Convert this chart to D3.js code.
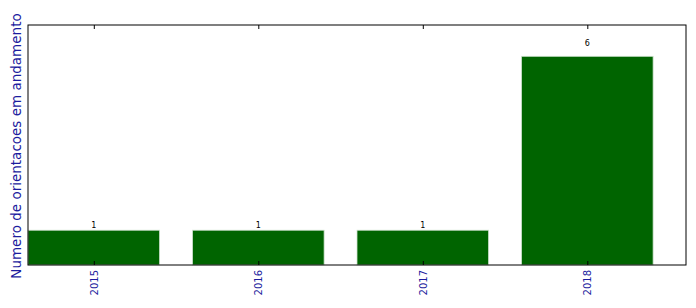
<!DOCTYPE html>
<html><head><meta charset="utf-8">
<script src="https://cdn.jsdelivr.net/npm/d3@7"></script>
<style>html,body{margin:0;padding:0;background:#fff;}svg{display:block;}</style>
</head><body>
<script>
const years = ["2015", "2016", "2017", "2018"];
const counts = [1, 1, 1, 6];
const yLabel = "Numero de orientacoes em andamento";

const W = 696, H = 308;
const m = {left: 28, right: 10, top: 25, bottom: 43};
const svg = d3.select("body").append("svg").attr("width", W).attr("height", H);

const x = d3.scaleLinear().domain([0, 4]).range([m.left, W - m.right]);
const y = d3.scaleLinear().domain([0, 6.9]).range([H - m.bottom, m.top]);
const barW = 0.8;
const blue = "#1c1c9e";

svg.append("g").selectAll("rect").data(counts).join("rect")
  .attr("x", (d, i) => x(i))
  .attr("width", x(barW) - x(0))
  .attr("y", d => y(d))
  .attr("height", d => y(0) - y(d))
  .attr("fill", "#006400")
  .attr("stroke", "#cfe3cf").attr("stroke-width", 0.8);

svg.append("g").selectAll("text").data(counts).join("text")
  .attr("x", (d, i) => x(i + barW / 2))
  .attr("y", d => y(d * 1.05))
  .attr("text-anchor", "middle")
  .attr("font-family", "DejaVu Sans").attr("font-size", 8).attr("fill", "#000")
  .text(d => d);

// frame
svg.append("rect").attr("x", m.left).attr("y", m.top)
  .attr("width", W - m.right - m.left).attr("height", H - m.bottom - m.top)
  .attr("fill", "none").attr("stroke", "#000").attr("stroke-width", 1);

const tickPos = years.map((d, i) => i + barW / 2);
const xb = d3.axisBottom(x).tickValues(tickPos).tickSize(-4).tickFormat("");
const gb = svg.append("g").attr("transform", `translate(0,${H - m.bottom})`).call(xb);
gb.select(".domain").remove();
const xt = d3.axisTop(x).tickValues(tickPos).tickSize(-4).tickFormat("");
const gt = svg.append("g").attr("transform", `translate(0,${m.top})`).call(xt);
gt.select(".domain").remove();

svg.append("g").selectAll("text").data(years).join("text")
  .attr("transform", (d, i) => `translate(${x(i + barW / 2) + 4},${H - m.bottom + 5}) rotate(-90)`)
  .attr("text-anchor", "end")
  .attr("font-family", "DejaVu Sans").attr("font-size", 10).attr("fill", blue)
  .text(d => d);

svg.append("text")
  .attr("transform", `translate(21,${(m.top + H - m.bottom) / 2 + 1}) rotate(-90)`)
  .attr("text-anchor", "middle")
  .attr("font-family", "DejaVu Sans").attr("font-size", 13.5).attr("fill", blue)
  .text(yLabel);
</script>
</body></html>
